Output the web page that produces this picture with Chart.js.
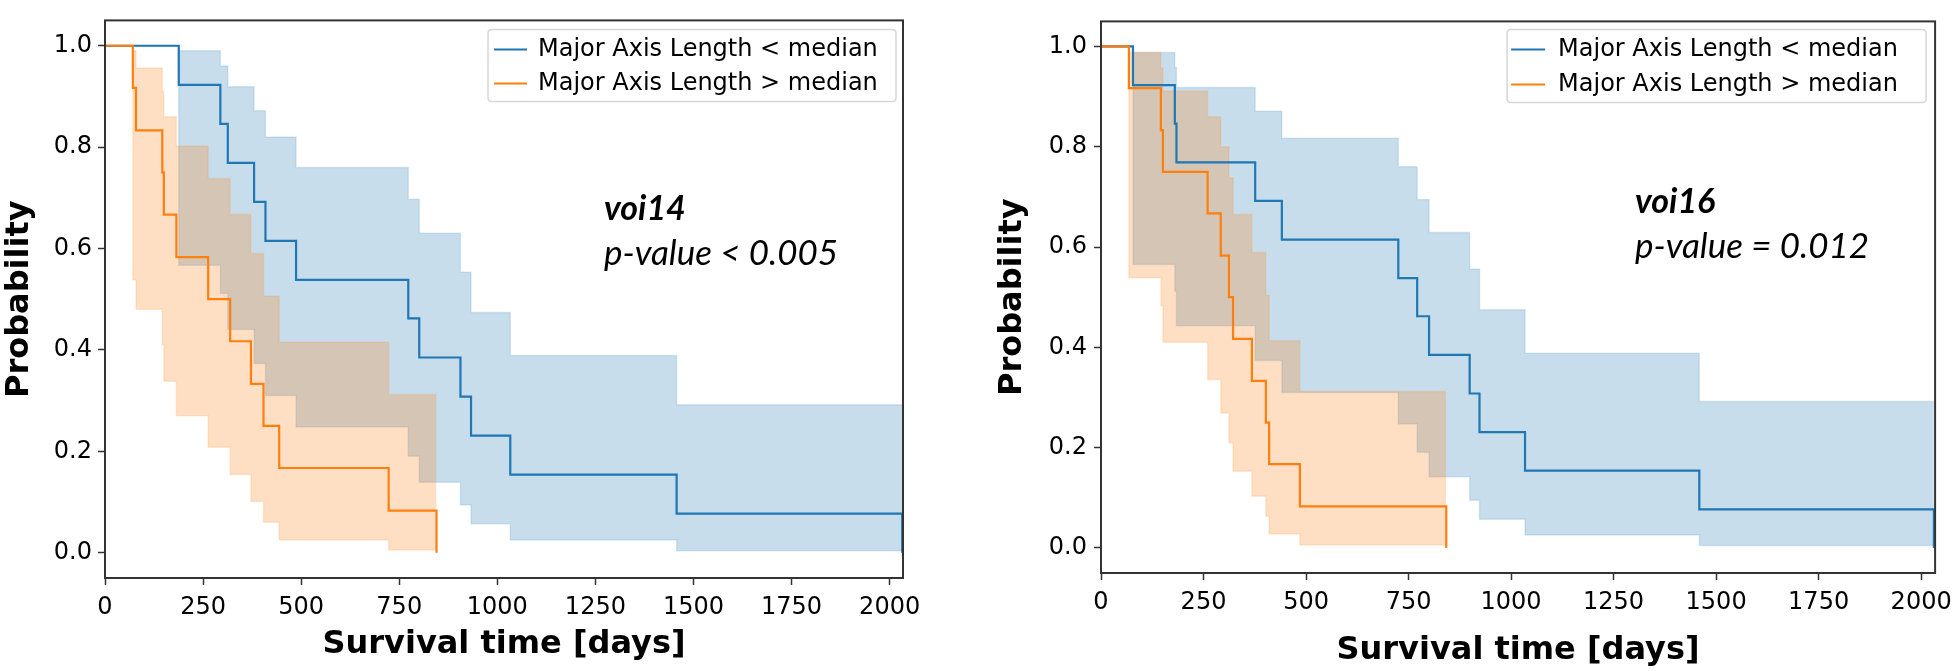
<!DOCTYPE html>
<html>
<head>
<meta charset="utf-8">
<script src="https://cdn.jsdelivr.net/npm/chart.js@4.4.0/dist/chart.umd.min.js"></script>
<style>
html, body { margin: 0; padding: 0; background: #fff; }
#wrap { position: relative; width: 1960px; height: 671px; overflow: hidden; }
canvas { position: absolute; top: 0; }
#km14 { left: 0; }
#km16 { left: 980px; }
</style>
</head>
<body>
<div id="wrap">
  <canvas id="km14" width="980" height="671"></canvas>
  <canvas id="km16" width="980" height="671"></canvas>
</div>
<script>
// labels + ticks
var seriesNames = ['Major Axis Length < median', 'Major Axis Length > median'];
var xTicks = [0, 250, 500, 750, 1000, 1250, 1500, 1750, 2000];
var yTicks = [0, 0.2, 0.4, 0.6, 0.8, 1.0];

// voi14 - below median (blue)
var v14BlueTimes = [0, 188, 294, 313, 380, 409, 487, 773, 801, 906, 933, 1033, 1457, 2032];
var v14BlueSurv  = [1, 0.923, 0.846, 0.769, 0.692, 0.615, 0.538, 0.462, 0.385, 0.308, 0.231, 0.154, 0.077, 0];
var v14BlueUpper = [1, 0.990, 0.960, 0.919, 0.872, 0.820, 0.760, 0.697, 0.630, 0.553, 0.474, 0.389, 0.292, 0.292];
var v14BlueLower = [1, 0.567, 0.511, 0.440, 0.373, 0.310, 0.248, 0.190, 0.139, 0.094, 0.057, 0.025, 0.004, 0.004];
// voi14 - above median (orange)
var v14OrangeTimes = [0, 71, 79, 146, 150, 182, 263, 319, 372, 404, 444, 723, 845];
var v14OrangeSurv  = [1, 0.917, 0.833, 0.750, 0.667, 0.583, 0.500, 0.417, 0.333, 0.250, 0.167, 0.083, 0];
var v14OrangeUpper = [1, 0.990, 0.956, 0.910, 0.860, 0.802, 0.738, 0.667, 0.590, 0.506, 0.415, 0.312, 0.312];
var v14OrangeLower = [1, 0.538, 0.480, 0.410, 0.338, 0.270, 0.208, 0.154, 0.101, 0.060, 0.025, 0.005, 0.005];

// voi16 - below median (blue)
var v16BlueTimes = [0, 78, 180, 184, 376, 441, 725, 771, 800, 899, 923, 1034, 1459, 2031];
var v16BlueSurv  = [1, 0.923, 0.846, 0.769, 0.692, 0.615, 0.538, 0.462, 0.385, 0.308, 0.231, 0.154, 0.077, 0];
var v16BlueUpper = [1, 0.988, 0.958, 0.918, 0.871, 0.817, 0.760, 0.695, 0.629, 0.556, 0.475, 0.388, 0.292, 0.292];
var v16BlueLower = [1, 0.565, 0.512, 0.443, 0.374, 0.310, 0.247, 0.191, 0.142, 0.095, 0.057, 0.026, 0.005, 0.005];
// voi16 - above median (orange)
var v16OrangeTimes = [0, 68, 146, 151, 260, 292, 312, 322, 368, 402, 410, 485, 842];
var v16OrangeSurv  = [1, 0.917, 0.833, 0.750, 0.667, 0.583, 0.500, 0.417, 0.333, 0.250, 0.167, 0.083, 0];
var v16OrangeUpper = [1, 0.988, 0.957, 0.911, 0.860, 0.800, 0.738, 0.665, 0.589, 0.504, 0.413, 0.312, 0.312];
var v16OrangeLower = [1, 0.539, 0.483, 0.410, 0.336, 0.269, 0.209, 0.153, 0.103, 0.063, 0.028, 0.006, 0.006];

var BLUE = '#1f77b4', ORANGE = '#ff7f0e';

function pts(times, vals) {
  return times.map(function (t, i) { return { x: t, y: vals[i] }; });
}

function roundRectPath(ctx, x, y, w, h, r) {
  ctx.beginPath();
  ctx.moveTo(x + r, y);
  ctx.lineTo(x + w - r, y);
  ctx.quadraticCurveTo(x + w, y, x + w, y + r);
  ctx.lineTo(x + w, y + h - r);
  ctx.quadraticCurveTo(x + w, y + h, x + w - r, y + h);
  ctx.lineTo(x + r, y + h);
  ctx.quadraticCurveTo(x, y + h, x, y + h - r);
  ctx.lineTo(x, y + r);
  ctx.quadraticCurveTo(x, y, x + r, y);
  ctx.closePath();
}

// frame, legend box and the annotation text
var kmDecor = {
  id: 'kmDecor',
  afterDraw: function (chart, args, o) {
    var ctx = chart.ctx, a = chart.chartArea;
    ctx.save();
    ctx.strokeStyle = '#333';
    ctx.lineWidth = 2;
    ctx.strokeRect(a.left, a.top, a.right - a.left, a.bottom - a.top);

    // legend
    var bx = a.right - o.legendRight - o.legendW, by = a.top + o.legendTop;
    roundRectPath(ctx, bx, by, o.legendW, o.legendH, 4);
    ctx.fillStyle = 'rgba(255,255,255,0.8)';
    ctx.fill();
    ctx.strokeStyle = '#d6d6d6';
    ctx.lineWidth = 1.5;
    ctx.stroke();
    ctx.font = o.legendFont + 'px "DejaVu Sans"';
    ctx.textBaseline = 'middle';
    ctx.textAlign = 'left';
    [BLUE, ORANGE].forEach(function (c, i) {
      var ly = by + o.rowY[i];
      ctx.strokeStyle = c;
      ctx.lineWidth = 2;
      ctx.beginPath();
      ctx.moveTo(bx + o.lineX0, ly);
      ctx.lineTo(bx + o.lineX1, ly);
      ctx.stroke();
      ctx.fillStyle = '#000';
      ctx.fillText(seriesNames[i], bx + o.textX, ly);
    });

    // annotation
    ctx.textBaseline = 'alphabetic';
    ctx.fillStyle = '#000';
    ctx.font = 'italic bold ' + o.tagFont + 'px Lato';
    ctx.fillText(o.tag, o.tagX, o.tagY);
    ctx.font = 'italic ' + o.pFont + 'px Lato';
    ctx.fillText(o.pText, o.tagX, o.pY);
    ctx.restore();
  }
};

function makePanel(id, d, L) {
  var datasets = [
    { data: pts(d.bt, d.bu), borderColor: 'rgba(31,119,180,0.15)', borderWidth: 1.5,
      backgroundColor: 'rgba(31,119,180,0.25)', fill: '+1', order: 6 },
    { data: pts(d.bt, d.bl), borderColor: 'rgba(31,119,180,0.15)', borderWidth: 1.5, fill: false, order: 5 },
    { data: pts(d.ot, d.ou), borderColor: 'rgba(255,127,14,0.15)', borderWidth: 1.5,
      backgroundColor: 'rgba(255,127,14,0.25)', fill: '+1', order: 4 },
    { data: pts(d.ot, d.ol), borderColor: 'rgba(255,127,14,0.15)', borderWidth: 1.5, fill: false, order: 3 },
    { label: seriesNames[0], data: pts(d.bt, d.bs), borderColor: BLUE, borderWidth: 2.2, fill: false, order: 2 },
    { label: seriesNames[1], data: pts(d.ot, d.os), borderColor: ORANGE, borderWidth: 2.2, fill: false, order: 1 }
  ];
  datasets.forEach(function (ds) {
    ds.stepped = true;
    ds.pointRadius = 0;
    ds.tension = 0;
  });

  return new Chart(document.getElementById(id), {
    type: 'line',
    data: { datasets: datasets },
    options: {
      responsive: false,
      devicePixelRatio: 1,
      animation: false,
      events: [],
      layout: { padding: { left: 0, top: 3, right: L.padRight, bottom: 0 } },
      plugins: { legend: { display: false }, tooltip: { enabled: false }, kmDecor: L.decor },
      scales: {
        x: {
          type: 'linear', min: 0, max: 2034,
          afterBuildTicks: function (s) { s.ticks = xTicks.map(function (v) { return { value: v }; }); },
          afterFit: function (s) { s.height = L.xAxisH; },
          grid: { drawOnChartArea: false, drawTicks: true, tickLength: 7, tickWidth: 1.5, tickColor: '#333' },
          border: { display: false },
          ticks: { color: '#000', font: { family: 'DejaVu Sans', size: L.tickFont }, padding: 8,
                   maxRotation: 0, autoSkip: false, callback: function (v) { return String(v); } },
          title: { display: true, text: 'Survival time [days]', color: '#000',
                   font: { family: 'DejaVu Sans', size: 32, weight: 'bold' },
                   padding: { top: 0, bottom: L.xTitlePad } }
        },
        y: {
          type: 'linear', min: -0.05, max: 1.05,
          afterBuildTicks: function (s) { s.ticks = yTicks.map(function (v) { return { value: v }; }); },
          afterFit: function (s) { s.width = L.yAxisW; },
          grid: { drawOnChartArea: false, drawTicks: true, tickLength: 7, tickWidth: 1.5, tickColor: '#333' },
          border: { display: false },
          ticks: { color: '#000', font: { family: 'DejaVu Sans', size: L.tickFont }, padding: L.yTickPad,
                   callback: function (v) { return Number(v).toFixed(1); } },
          title: { display: true, text: 'Probability', color: '#000',
                   font: { family: 'DejaVu Sans', size: 32, weight: 'bold' },
                   padding: { top: L.yTitlePad, bottom: 0 } }
        }
      }
    },
    plugins: [kmDecor]
  });
}

makePanel('km14', {
  bt: v14BlueTimes, bs: v14BlueSurv, bu: v14BlueUpper, bl: v14BlueLower,
  ot: v14OrangeTimes, os: v14OrangeSurv, ou: v14OrangeUpper, ol: v14OrangeLower
}, {
  padRight: 77, xAxisH: 93, yAxisW: 105, tickFont: 24, yTickPad: 6, xTitlePad: 7, yTitlePad: 0,
  decor: { legendRight: 7, legendTop: 9, legendW: 408, legendH: 72, rowY: [20, 54],
           lineX0: 6, lineX1: 39, textX: 50, legendFont: 24,
           tag: 'voi14', pText: 'p-value < 0.005', tagX: 604, tagY: 220, pY: 265, tagFont: 34, pFont: 35 }
});

makePanel('km16', {
  bt: v16BlueTimes, bs: v16BlueSurv, bu: v16BlueUpper, bl: v16BlueLower,
  ot: v16OrangeTimes, os: v16OrangeSurv, ou: v16OrangeUpper, ol: v16OrangeLower
}, {
  padRight: 18, xAxisH: 98, yAxisW: 121, tickFont: 24, yTickPad: 7, xTitlePad: 1, yTitlePad: 13,
  decor: { legendRight: 9, legendTop: 8, legendW: 419, legendH: 73, rowY: [20, 55],
           lineX0: 4, lineX1: 38, textX: 51, legendFont: 24,
           tag: 'voi16', pText: 'p-value = 0.012', tagX: 655, tagY: 213, pY: 258, tagFont: 34, pFont: 35 }
});
</script>
</body>
</html>
